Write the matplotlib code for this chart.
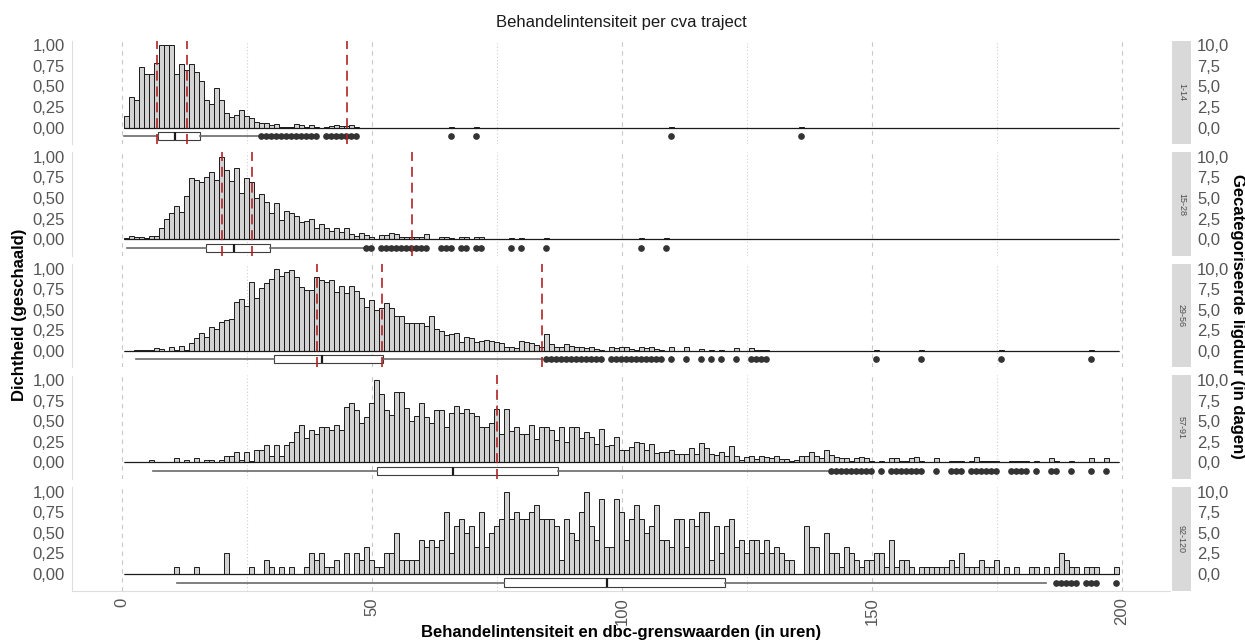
import matplotlib
matplotlib.use("Agg")
import matplotlib.pyplot as plt
import numpy as np
from matplotlib.patches import Rectangle
from matplotlib.ticker import FuncFormatter, FixedLocator

plt.rcParams['font.family'] = ['Liberation Sans', 'DejaVu Sans']

# ---- data -------------------------------------------------------------
categories = ['1-14', '15-28', '29-56', '57-91', '92-120']
n_bins = 199          # 1-hour bins
bin_offset = 0.3      # left edge of bin k is k + 0.3

# scaled density per bin (dense part, starting at bin 0) + sparse tails
p1_dense = [0.14, 0.37, 0.34, 0.74, 0.65, 0.65, 0.78, 1.00, 1.00, 1.00,
            0.65, 0.77, 0.70, 0.77, 0.67, 0.56, 0.34, 0.28, 0.48, 0.34,
            0.18, 0.13, 0.15, 0.21, 0.14, 0.12, 0.07, 0.06, 0.05, 0.03,
            0.04, 0.01, 0.01, 0.01, 0.04, 0.03, 0.01, 0.03, 0.01, 0.00,
            0.01, 0.02, 0.03, 0.02, 0.02, 0.03, 0.01]
p1_tail_bins = [65, 70, 109, 135]
p1_tail_vals = [0.01, 0.01, 0.01, 0.01]

p2_dense = [0.01, 0.04, 0.03, 0.02, 0.01, 0.04, 0.04, 0.13, 0.25, 0.32,
            0.40, 0.33, 0.52, 0.74, 0.72, 0.69, 0.76, 0.82, 0.72, 1.00,
            0.84, 0.71, 0.86, 0.56, 0.74, 0.69, 0.50, 0.55, 0.45, 0.32,
            0.44, 0.23, 0.34, 0.32, 0.28, 0.21, 0.22, 0.24, 0.14, 0.18,
            0.13, 0.10, 0.14, 0.09, 0.14, 0.06, 0.04, 0.08, 0.05, 0.03,
            0.00, 0.05, 0.05, 0.08, 0.06, 0.03, 0.03, 0.03, 0.03, 0.02,
            0.06, 0.00, 0.00, 0.03, 0.02, 0.01, 0.00, 0.02, 0.02, 0.00,
            0.02, 0.02]
p2_tail_bins = [77, 79, 84, 103, 108]
p2_tail_vals = [0.01, 0.01, 0.01, 0.01, 0.01]

p3_dense = [0.00, 0.00, 0.01, 0.01, 0.01, 0.01, 0.03, 0.02, 0.00, 0.05,
            0.01, 0.06, 0.01, 0.09, 0.16, 0.22, 0.17, 0.29, 0.26, 0.35,
            0.37, 0.39, 0.59, 0.63, 0.54, 0.83, 0.64, 0.76, 0.82, 0.87,
            1.00, 0.91, 0.96, 0.98, 0.90, 0.78, 0.74, 0.74, 0.90, 0.86,
            0.84, 0.86, 0.72, 0.79, 0.70, 0.79, 0.73, 0.64, 0.53, 0.62,
            0.50, 0.52, 0.58, 0.52, 0.42, 0.42, 0.34, 0.34, 0.34, 0.34,
            0.30, 0.42, 0.27, 0.24, 0.19, 0.20, 0.21, 0.11, 0.17, 0.15,
            0.10, 0.12, 0.13, 0.12, 0.11, 0.09, 0.05, 0.05, 0.03, 0.12,
            0.11, 0.09, 0.07, 0.05, 0.20, 0.08, 0.04, 0.05, 0.08, 0.06,
            0.05, 0.04, 0.03, 0.05, 0.02, 0.01, 0.00, 0.04, 0.03, 0.04,
            0.04, 0.02, 0.01, 0.05, 0.03, 0.04, 0.02, 0.01, 0.00, 0.04,
            0.00, 0.00, 0.05, 0.00, 0.00, 0.02, 0.00, 0.01, 0.00, 0.01,
            0.00, 0.00, 0.03, 0.00, 0.00, 0.03, 0.01, 0.01, 0.01]
p3_tail_bins = [150, 159, 175, 193]
p3_tail_vals = [0.01, 0.01, 0.01, 0.01]

p4_dense = [0, 0, 0, 0, 0, 0.03, 0, 0, 0, 0,
            0.05, 0, 0.03, 0, 0.05, 0, 0.03, 0.03, 0, 0.03,
            0.08, 0.08, 0.13, 0.03, 0.13, 0.02, 0.15, 0.15, 0.21, 0.08,
            0.21, 0.08, 0.21, 0.25, 0.37, 0.45, 0.30, 0.39, 0.35, 0.43,
            0.43, 0.39, 0.45, 0.39, 0.67, 0.72, 0.64, 0.48, 0.55, 0.72,
            1.00, 0.83, 0.64, 0.58, 0.85, 0.85, 0.66, 0.50, 0.56, 0.72,
            0.55, 0.48, 0.64, 0.64, 0.43, 0.60, 0.69, 0.60, 0.65, 0.60,
            0.56, 0.43, 0.43, 0.48, 0.65, 0.35, 0.65, 0.38, 0.43, 0.34,
            0.35, 0.45, 0.28, 0.43, 0.43, 0.39, 0.27, 0.43, 0.25, 0.43,
            0.43, 0.29, 0.37, 0.31, 0.22, 0.40, 0.20, 0.21, 0.31, 0.15,
            0.15, 0.19, 0.25, 0.23, 0.15, 0.22, 0.11, 0.12, 0.12, 0.15,
            0.10, 0.10, 0.10, 0.18, 0.10, 0.23, 0.17, 0.10, 0.09, 0.13,
            0.08, 0.20, 0.08, 0.03, 0.06, 0.08, 0.04, 0.08, 0.06, 0.05,
            0.08, 0.04, 0.04, 0.01, 0.03, 0.08, 0.08, 0.12, 0.08, 0.05,
            0.15, 0.09, 0.06, 0.05, 0.05, 0.02, 0.05, 0.07, 0.05, 0.02,
            0, 0.02, 0, 0.05, 0.05, 0.02, 0.02, 0.05, 0.07, 0.02,
            0, 0, 0.05, 0, 0, 0.02, 0.02, 0.02, 0, 0.02,
            0.07, 0.02, 0.02, 0.02, 0.02, 0, 0, 0.02, 0.02, 0.02,
            0.02, 0, 0.02, 0, 0, 0.05, 0.02, 0, 0, 0.02,
            0, 0, 0, 0.05, 0, 0, 0.05, 0, 0]

# last group: counts per bin (scaled by the maximum)
p5_counts = [0, 0, 0, 0, 0, 0, 0, 0, 0, 0,
             1, 0, 0, 0, 1, 0, 0, 0, 0, 0,
             3, 0, 0, 0, 0, 1, 0, 0, 2, 1,
             0, 1, 0, 1, 0, 0, 1, 3, 2, 3,
             1, 1, 2, 0, 3, 0, 3, 2, 4, 2,
             1, 1, 3, 3, 6, 2, 2, 2, 2, 5,
             4, 5, 4, 5, 9, 3, 7, 8, 6, 7,
             4, 9, 4, 6, 7, 8, 12, 8, 9, 8,
             8, 9, 10, 8, 8, 8, 7, 2, 8, 6,
             5, 9, 12, 7, 5, 11, 4, 4, 11, 9,
             5, 8, 10, 8, 6, 7, 10, 5, 5, 4,
             8, 8, 4, 8, 7, 9, 9, 2, 7, 3,
             7, 8, 4, 5, 3, 5, 5, 3, 5, 3,
             4, 3, 2, 2, 0, 0, 7, 4, 4, 0,
             6, 3, 3, 1, 4, 3, 2, 1, 2, 2,
             3, 3, 1, 5, 1, 2, 2, 1, 0, 1,
             1, 1, 1, 1, 1, 2, 1, 3, 1, 1,
             1, 2, 1, 1, 2, 0, 1, 0, 1, 0,
             0, 1, 1, 0, 1, 0, 1, 3, 2, 1,
             1, 0, 1, 1, 1, 0, 0, 0, 1]

# boxplot statistics (hours): whisker low, Q1, median, Q3, whisker high
box_whislo = [0.3, 0.9, 2.7, 6.1, 10.9]
box_q1 = [7.1, 16.7, 30.4, 50.9, 76.4]
box_med = [10.6, 22.4, 39.9, 66.1, 96.9]
box_q3 = [15.6, 29.5, 52.1, 87.1, 120.5]
box_whishi = [27.6, 48.6, 84.0, 141.2, 184.8]

# dbc boundary values (hours) per group
dbc_lines = [[7, 13, 45], [20, 26, 58], [39, 52, 84], [75], []]

x_ticks = [0, 50, 100, 150, 200]
x_minor = [25, 75, 125, 175]
y_ticks = [0, 0.25, 0.5, 0.75, 1.0]
y2_ticks = [0, 2.5, 5, 7.5, 10]


def full_heights(dense, tail_bins=(), tail_vals=()):
    h = np.zeros(n_bins)
    h[:len(dense)] = dense
    for b, v in zip(tail_bins, tail_vals):
        h[b] = v
    return h


p5 = np.array(p5_counts, dtype=float)
heights = [full_heights(p1_dense, p1_tail_bins, p1_tail_vals),
           full_heights(p2_dense, p2_tail_bins, p2_tail_vals),
           full_heights(p3_dense, p3_tail_bins, p3_tail_vals),
           full_heights(p4_dense),
           p5 / p5.max()]

# ---- figure -----------------------------------------------------------
W, H = 1245, 642
fig = plt.figure(figsize=(W / 100, H / 100), dpi=100)
fig.patch.set_facecolor('white')

left_px, right_px = 72, 1170
top0, step, panel_h = 40.7, 111.6, 103.5
grey_txt = '#555555'
comma = lambda fmt: FuncFormatter(lambda v, p: format(v, fmt).replace('.', ','))

edges = np.arange(n_bins) + bin_offset
axes = []
for i, cat in enumerate(categories):
    top = top0 + step * i
    ax = fig.add_axes([left_px / W, 1 - (top + panel_h) / H,
                       (right_px - left_px) / W, panel_h / H])
    axes.append(ax)

    ax.bar(edges, heights[i], width=1, align='edge', facecolor='#d3d3d3',
           edgecolor='#1a1a1a', linewidth=0.7, zorder=2)
    # outline of the empty bins along the base
    ax.hlines(0, edges[0], edges[-1] + 1, color='#1a1a1a', linewidth=0.9, zorder=3)

    centers = edges + 0.5
    fl = centers[(heights[i] > 0) & (centers > box_whishi[i])]
    stats = [dict(med=box_med[i], q1=box_q1[i], q3=box_q3[i],
                  whislo=box_whislo[i], whishi=box_whishi[i], fliers=fl)]
    ax.bxp(stats, positions=[-0.105], widths=0.1, orientation='horizontal',
           showcaps=False, patch_artist=True, manage_ticks=False,
           boxprops=dict(facecolor='white', edgecolor='#3d3d3d', linewidth=0.8),
           medianprops=dict(color='#1a1a1a', linewidth=1.6),
           whiskerprops=dict(color='#6a6a6a', linewidth=1.2),
           flierprops=dict(marker='o', markerfacecolor='#333333',
                           markeredgecolor='#333333', markersize=3.8))

    for v in dbc_lines[i]:
        ax.axvline(v, color='#b22222', linestyle=(0, (6, 3.5)), linewidth=1.2, zorder=5)

    ax.set_xlim(-10, 209.6)
    ax.set_ylim(-0.203, 1.056)
    ax.xaxis.set_major_locator(FixedLocator(x_ticks))
    ax.xaxis.set_minor_locator(FixedLocator(x_minor))
    ax.grid(axis='x', which='major', color='#c8c8c8', linestyle=(0, (4, 4)), linewidth=0.8, zorder=0)
    ax.grid(axis='x', which='minor', color='#d0d0d0', linestyle=(0, (1, 2)), linewidth=0.8, zorder=0)
    ax.set_axisbelow(True)

    ax.set_yticks(y_ticks)
    ax.yaxis.set_major_formatter(comma('.2f'))
    ax.tick_params(axis='y', length=0, pad=5, labelsize=12, labelcolor=grey_txt)
    ax.tick_params(axis='x', which='both', length=0)

    for s in ['top', 'right', 'bottom']:
        ax.spines[s].set_visible(False)
    ax.spines['left'].set_color('#dddddd')
    ax.spines['left'].set_linewidth(0.8)

    if i < len(categories) - 1:
        ax.tick_params(axis='x', labelbottom=False)
    else:
        ax.spines['bottom'].set_visible(True)
        ax.spines['bottom'].set_color('#dddddd')
        ax.spines['bottom'].set_linewidth(0.8)
        ax.tick_params(axis='x', labelsize=12, labelcolor=grey_txt,
                       labelrotation=90, pad=5)

    # secondary scale on the right
    sec = ax.secondary_yaxis('right', functions=(lambda y: y * 10, lambda y: y / 10))
    sec.set_yticks(y2_ticks)
    sec.yaxis.set_major_formatter(comma('.1f'))
    sec.tick_params(length=0, pad=19.5, labelsize=12, labelcolor=grey_txt)
    sec.spines['right'].set_visible(False)

    # facet strip
    x0 = (1172 - left_px) / (right_px - left_px)
    sw = (1191 - 1172) / (right_px - left_px)
    ax.add_patch(Rectangle((x0, 0), sw, 1, transform=ax.transAxes,
                           facecolor='#d9d9d9', edgecolor='none', clip_on=False))
    ax.text(x0 + sw / 2, 0.5, cat, transform=ax.transAxes, rotation=-90,
            ha='center', va='center', fontsize=6.5, color='#4d4d4d')

mid_x = (left_px + right_px) / 2 / W
fig.text(mid_x, 1 - 22 / H, 'Behandelintensiteit per cva traject',
         ha='center', va='center', fontsize=12, color='#1a1a1a')
fig.text(mid_x, 1 - 632 / H, 'Behandelintensiteit en dbc-grenswaarden (in uren)',
         ha='center', va='center', fontsize=12, fontweight='bold')
fig.text(20 / W, 1 - 315 / H, 'Dichtheid (geschaald)', rotation=90,
         ha='center', va='center', fontsize=12, fontweight='bold')
fig.text(1238 / W, 1 - 316 / H, 'Gecategoriseerde ligduur (in dagen)', rotation=-90,
         ha='center', va='center', fontsize=12, fontweight='bold')

fig.savefig('out.png', dpi=100)
